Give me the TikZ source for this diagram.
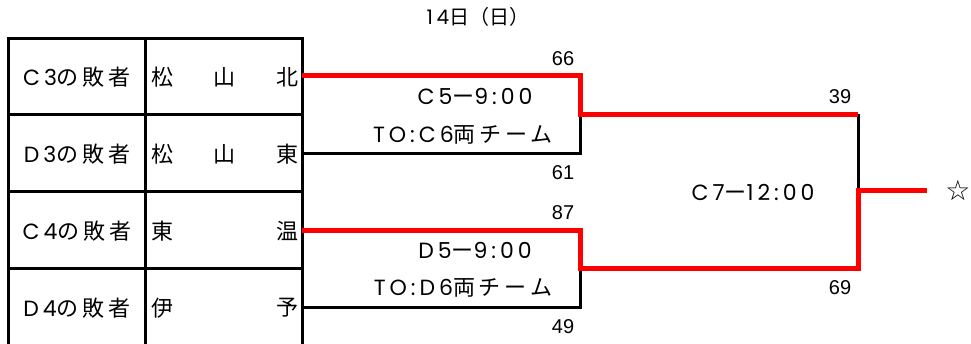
\documentclass[tikz,border=0pt]{standalone}
\usepackage{fontspec}
\setmainfont[LetterSpace=18]{Noto Sans CJK JP}
\newfontfamily\plain{Noto Sans CJK JP}
\newfontfamily\lat[LetterSpace=18]{Poppins}
\newfontfamily\arial{Liberation Sans}
\newfontfamily\symf{DejaVu Sans}
\begin{document}
\begin{tikzpicture}[x=1pt,y=-1pt,
  txt/.style={inner sep=0pt, font=\fontsize{22}{26}\selectfont},
  num/.style={inner sep=0pt, font=\arial\fontsize{20}{24}\selectfont},
  gridline/.style={line width=3pt},
  win/.style={draw=red, line width=5pt},
  lose/.style={draw=black, line width=3pt}]
\useasboundingbox (0,0) rectangle (971,343);
% title
\node[inner sep=0pt, font=\plain\fontsize{20}{24}\selectfont] (title) at (478,17) {{\lat 14}日（日）};
% table
\draw[gridline] (8,350) -- (8,38) -- (302,38) -- (302,350);
\draw[gridline] (145,38) -- (145,350);
\foreach \yy in {114,191,268} \draw[gridline] (8,\yy) -- (302,\yy);
% seeds
\node[txt] (s1) at (77,77) {{\lat C3}の敗者};
\node[txt] (s2) at (77,154) {{\lat D3}の敗者};
\node[txt] (s3) at (77,231) {{\lat C4}の敗者};
\node[txt] (s4) at (77,308) {{\lat D4}の敗者};
% team names
\node[txt,anchor=west] (a1) at (151,77) {松};
\node[txt] (m1) at (224,77) {山};
\node[txt,anchor=east] (t1) at (299,77) {北};
\node[txt,anchor=west] (a2) at (151,154) {松};
\node[txt] (m2) at (224,154) {山};
\node[txt,anchor=east] (t2) at (299,154) {東};
\node[txt,anchor=west] (a3) at (151,231) {東};
\node[txt,anchor=east] (t3) at (299,231) {温};
\node[txt,anchor=west] (a4) at (151,308) {伊};
\node[txt,anchor=east] (t4) at (299,308) {予};
% bracket coordinates
\coordinate (e1) at (302,75);
\coordinate (e2) at (302,153);
\coordinate (e3) at (302,230);
\coordinate (e4) at (302,307);
\coordinate (j1) at (580,114);
\coordinate (j2) at (580,268);
\coordinate (f) at (858,190);
\coordinate (w) at (927,190);
% losers (black)
\draw[lose] (e2) -| (j1);
\draw[lose] (e4) -| (j2);
\draw[lose] (f |- j1) -- (f);
% winners (red)
\draw[win] (e1) -| (j1) -- (f |- j1);
\draw[win] (e3) -| (j2) -- (f |- j2) -- (f) -- (w);
% scores
\node[num] (n66) at (563,59) {66};
\node[num] (n61) at (563,173) {61};
\node[num] (n87) at (563,213) {87};
\node[num] (n49) at (563,327) {49};
\node[num] (n39) at (840,97) {39};
\node[num] (n69) at (840,288) {69};
% match labels
\node[txt] (c5) at (475,96) {{\lat C5}ー{\lat 9:00}};
\node[txt] (to1) at (463,135) {{\lat TO:C6}両チーム};
\node[txt] (d5) at (475,250) {{\lat D5}ー{\lat 9:00}};
\node[txt] (to2) at (463,288) {{\lat TO:D6}両チーム};
\node[txt] (c7) at (753,192) {{\lat C7}ー{\lat 12:00}};
\node[inner sep=0pt, font=\symf\fontsize{28}{32}\selectfont] (star) at (958,190) {☆};
\end{tikzpicture}
\end{document}
